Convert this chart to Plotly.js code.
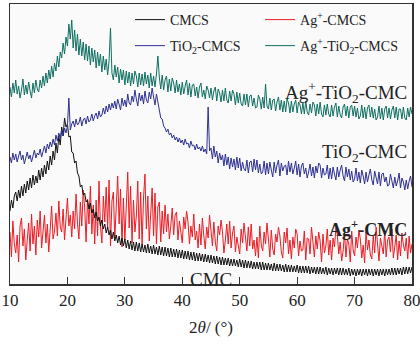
<!DOCTYPE html>
<html>
<head>
<meta charset="utf-8">
<script src="https://cdn.plot.ly/plotly-3.0.1.min.js"></script>
<style>html,body{margin:0;padding:0;background:#fff;}#chart{width:420px;height:344px;}</style>
</head>
<body>
<div id="chart"></div>
<script>
// 2θ (degrees), 0.25° step
const theta = [
10,10.25,10.5,10.75,11,11.25,11.5,11.75,12,12.25,12.5,12.75,13,13.25,13.5,13.75,14,14.25,14.5,14.75,
15,15.25,15.5,15.75,16,16.25,16.5,16.75,17,17.25,17.5,17.75,18,18.25,18.5,18.75,19,19.25,19.5,19.75,
20,20.25,20.5,20.75,21,21.25,21.5,21.75,22,22.25,22.5,22.75,23,23.25,23.5,23.75,24,24.25,24.5,24.75,
25,25.25,25.5,25.75,26,26.25,26.5,26.75,27,27.25,27.5,27.75,28,28.25,28.5,28.75,29,29.25,29.5,29.75,
30,30.25,30.5,30.75,31,31.25,31.5,31.75,32,32.25,32.5,32.75,33,33.25,33.5,33.75,34,34.25,34.5,34.75,
35,35.25,35.5,35.75,36,36.25,36.5,36.75,37,37.25,37.5,37.75,38,38.25,38.5,38.75,39,39.25,39.5,39.75,
40,40.25,40.5,40.75,41,41.25,41.5,41.75,42,42.25,42.5,42.75,43,43.25,43.5,43.75,44,44.25,44.5,44.75,
45,45.25,45.5,45.75,46,46.25,46.5,46.75,47,47.25,47.5,47.75,48,48.25,48.5,48.75,49,49.25,49.5,49.75,
50,50.25,50.5,50.75,51,51.25,51.5,51.75,52,52.25,52.5,52.75,53,53.25,53.5,53.75,54,54.25,54.5,54.75,
55,55.25,55.5,55.75,56,56.25,56.5,56.75,57,57.25,57.5,57.75,58,58.25,58.5,58.75,59,59.25,59.5,59.75,
60,60.25,60.5,60.75,61,61.25,61.5,61.75,62,62.25,62.5,62.75,63,63.25,63.5,63.75,64,64.25,64.5,64.75,
65,65.25,65.5,65.75,66,66.25,66.5,66.75,67,67.25,67.5,67.75,68,68.25,68.5,68.75,69,69.25,69.5,69.75,
70,70.25,70.5,70.75,71,71.25,71.5,71.75,72,72.25,72.5,72.75,73,73.25,73.5,73.75,74,74.25,74.5,74.75,
75,75.25,75.5,75.75,76,76.25,76.5,76.75,77,77.25,77.5,77.75,78,78.25,78.5,78.75,79,79.25,79.5,79.75,
80];

// Intensities (a.u., offset stacked as in the figure)
const cmcs = [
73,84,76,88, 92,83,94,86, 98,88,100,91, 103,94,106,96, 109,99,108,101,
114,104,116,107, 119,110,123,114, 128,119,133,124, 141,131,148,139, 157,148,166,157,
160,147,148,132, 131,121,123,111, 108,97,99,89, 91,82,84,75, 81,71,75,66,
72,63,67,58, 64,55,60,51, 57,49,54,45, 52,43,49,41, 48,39,46,38,
45,36,44,35, 43,34,42,33, 42,33,41,32, 40,32,39,31, 40,31,38,30,
39,30,37,29, 38,29,37,28, 37,28,36,27, 36,27,35,27, 35,26,34,26,
34,25,33,25, 33,24,32,24, 32,23,31,23, 31,23,30,22, 30,22,29,21,
29,21,28,20, 28,20,27,19, 27,19,26,19, 26,18,25,18, 25,18,24,17,
25,17,24,16, 24,16,23,16, 23,15,22,15, 22,15,22,14, 22,14,21,14,
21,14,20,13, 21,13,20,13, 20,13,19,12, 20,12,19,12, 19,12,18,12,
19,11,18,11, 18,11,18,11, 18,10,17,11, 17,10,17,10, 17,10,16,10,
17,9,16,10, 16,9,16,10, 16,9,16,9, 16,9,15,9, 16,8,15,9,
15,8,15,9, 15,8,15,9, 15,8,15,9, 15,8,15,9, 15,8,15,9,
15,8,15,9, 15,9,16,9, 16,9,16,10, 16,9,17,10, 17,10,17,11,
17];

const agCmcs = [
52,27,63,40, 31,49,22,58, 66,38,55,24, 44,61,33,70, 40,58,29,64,
47,73,36,55, 69,41,60,32, 62,78,45,53, 71,48,83,57, 52,75,44,66,
86,58,69,47, 73,55,90,61, 45,82,58,94, 77,42,85,60, 98,50,79,40,
84,48,103,58, 41,88,62,97, 55,104,38,83, 92,46,72,108, 60,95,37,86,
44,89,112,56, 98,41,84,52, 68,103,45,92, 39,86,110,55, 88,43,71,96,
48,91,40,77, 82,42,73,50, 79,52,70,45, 58,76,49,69, 72,44,63,52,
41,67,55,73, 62,40,58,47, 70,44,53,36, 60,39,66,48, 35,57,46,69,
55,38,62,42, 33,58,49,64, 52,31,44,60, 40,63,36,51, 58,32,47,37,
30,55,41,61, 49,33,57,38, 60,35,44,28, 47,26,58,39, 33,52,40,61,
45,27,54,35, 29,50,42,57, 48,32,26,52, 41,56,30,44, 25,47,36,55,
50,28,43,33, 34,53,24,46, 45,30,57,38, 27,48,35,52, 43,22,50,31,
38,55,29,44, 24,46,37,56, 49,30,42,23, 33,51,27,45, 40,22,53,34,
28,47,36,54, 45,26,39,21, 52,34,44,29, 25,48,31,57, 41,23,46,36,
30,53,27,44, 47,32,55,26, 37,49,24,43, 28,51,39,33, 46,25,48,31,
40];

const tio2Cmcs = [
127,121,131,124, 130,122,128,133, 124,129,120,127, 132,125,129,122, 128,134,126,131,
129,135,127,133, 138,131,140,135, 142,137,145,139, 149,143,151,146, 154,148,156,151,
158,186,154,160, 163,157,165,159, 161,167,158,164, 166,160,168,162, 164,170,163,168,
171,165,173,167, 169,176,170,178, 172,180,174,181, 176,183,175,185, 180,174,186,178,
184,177,190,181, 179,188,182,194, 185,178,191,183, 189,180,193,184, 181,192,185,196,
187,179,190,182, 175,166,165,158, 156,152,155,149, 151,146,149,144, 147,142,146,141,
144,139,145,140, 141,136,143,138, 139,134,140,135, 137,133,138,132, 135,130,177,133,
136,125,138,127, 133,121,131,124, 129,118,130,119, 127,115,126,117, 125,114,127,116,
126,113,122,115, 113,124,111,122, 123,112,125,114, 124,111,120,110, 112,123,109,121,
110,122,114,107, 122,111,119,124, 108,121,113,118, 119,109,123,112, 121,110,116,123,
109,120,107,118, 121,110,116,106, 112,120,108,117, 106,118,111,121, 119,106,116,109,
110,119,105,116, 105,117,110,104, 117,107,114,119, 108,103,117,107, 115,104,113,102,
105,116,103,112, 101,114,108,100, 112,102,109,115, 104,99,113,105, 100,112,98,110,
111,102,107,98, 99,110,104,96, 107,98,103,111, 96,106,102,94, 104,95,103,108,
97];

const agTio2Cmcs = [
197,187,201,191, 204,190,198,186, 194,205,189,199, 190,202,193,186, 201,191,204,195,
192,204,196,208, 198,211,201,214, 205,218,207,221, 213,228,217,232, 226,241,230,247,
238,260,245,264, 236,254,233,250, 229,245,228,242, 224,240,223,238, 219,236,222,234,
216,232,218,230, 212,228,214,225, 209,223,256,211, 204,219,207,217, 201,215,204,214,
199,213,201,212, 198,211,200,213, 208,197,211,199, 210,198,212,200, 209,196,211,198,
208,197,210,228, 207,195,209,194, 204,208,192,205, 193,206,201,191, 204,192,200,189,
202,190,198,204, 189,201,187,199, 200,188,197,186, 197,201,187,194, 185,198,194,186,
196,184,193,197, 183,195,191,182, 194,183,196,184, 181,193,183,194, 190,179,192,181,
191,180,178,190, 179,190,177,188, 189,178,186,176, 177,189,185,175, 187,176,200,178,
175,186,174,184, 185,173,182,187, 174,184,172,183, 172,185,181,171, 183,172,180,184,
171,182,179,170, 181,170,183,172, 169,180,171,182, 179,168,180,170, 182,170,167,179,
169,180,170,167, 179,168,177,181, 167,178,169,166, 177,180,168,178, 166,177,179,168,
178,167,176,165, 168,179,166,177, 165,176,179,167, 177,166,175,164, 167,178,165,176,
164,175,178,166, 176,165,174,178, 166,177,164,175, 175,165,177,166, 164,176,167,177,
170];

const seriesNames = ['CMCS', 'Ag<sup>+</sup>-CMCS', 'TiO<sub>2</sub>-CMCS', 'Ag<sup>+</sup>-TiO<sub>2</sub>-CMCS'];
const curveLabels = ['CMC', 'Ag<sup>+</sup>-CMC', 'TiO<sub>2</sub>-CMC', 'Ag<sup>+</sup>-TiO<sub>2</sub>-CMC'];
const xTicks = [10, 20, 30, 40, 50, 60, 70, 80];

const serif = 'Liberation Serif, Times New Roman, serif';
const colors = {black: '#111111', red: '#ec1c24', blue: '#2e3192', teal: '#0f6f62'};

const traces = [
  {x: theta, y: agCmcs, name: seriesNames[1], legend: 'legend2', line: {color: colors.red, width: 1}},
  {x: theta, y: cmcs, name: seriesNames[0], legend: 'legend', line: {color: colors.black, width: 1}},
  {x: theta, y: tio2Cmcs, name: seriesNames[2], legend: 'legend3', line: {color: colors.blue, width: 1}},
  {x: theta, y: agTio2Cmcs, name: seriesNames[3], legend: 'legend4', line: {color: colors.teal, width: 1}}
].map(t => Object.assign({type: 'scatter', mode: 'lines', hoverinfo: 'skip'}, t));

function leg(x, y) {
  return {
    orientation: 'v', xanchor: 'left', yanchor: 'top', x: x, y: y,
    bgcolor: 'rgba(0,0,0,0)', borderwidth: 0, itemwidth: 30,
    font: {family: serif, size: 14, color: '#222'}
  };
}

const layout = {
  width: 420, height: 344,
  margin: {l: 10, r: 8, t: 4, b: 60},
  paper_bgcolor: '#ffffff', plot_bgcolor: '#fafafa',
  showlegend: true,
  legend: leg(0.2985, 1.0),
  legend2: leg(0.622, 1.0),
  legend3: leg(0.2985, 0.907),
  legend4: leg(0.622, 0.907),
  xaxis: {
    range: [10, 80], tickvals: xTicks, ticktext: xTicks.map(String),
    ticks: 'inside', ticklen: 7, tickwidth: 1, tickcolor: '#333',
    showline: true, mirror: true, linecolor: '#333', linewidth: 1.5,
    showgrid: false, zeroline: false, ticklabeloverflow: 'allow',
    tickfont: {family: serif, size: 17, color: '#222'},
    title: {text: '2<i>θ</i>/ (°)', font: {family: serif, size: 17, color: '#222'}, standoff: 12},
    automargin: false
  },
  yaxis: {
    range: [0, 280], showticklabels: false, ticks: '',
    showline: true, mirror: true, linecolor: '#333', linewidth: 1.5,
    showgrid: false, zeroline: false, automargin: false
  },
  annotations: [
    {text: curveLabels[3], x: 79.5, y: 192, xanchor: 'right', yanchor: 'middle', showarrow: false, font: {family: serif, size: 19, color: '#222'}},
    {text: curveLabels[2], x: 79.5, y: 131, xanchor: 'right', yanchor: 'middle', showarrow: false, font: {family: serif, size: 19, color: '#222'}},
    {text: '<b>' + curveLabels[1] + '</b>', x: 79.5, y: 56, xanchor: 'right', yanchor: 'middle', showarrow: false, font: {family: serif, size: 18, color: '#222'}},
    {text: curveLabels[0], x: 45, y: 5, xanchor: 'center', yanchor: 'middle', showarrow: false, font: {family: serif, size: 19, color: '#222'}}
  ]
};

Plotly.newPlot('chart', traces, layout, {displayModeBar: false, staticPlot: true});
</script>
</body>
</html>
